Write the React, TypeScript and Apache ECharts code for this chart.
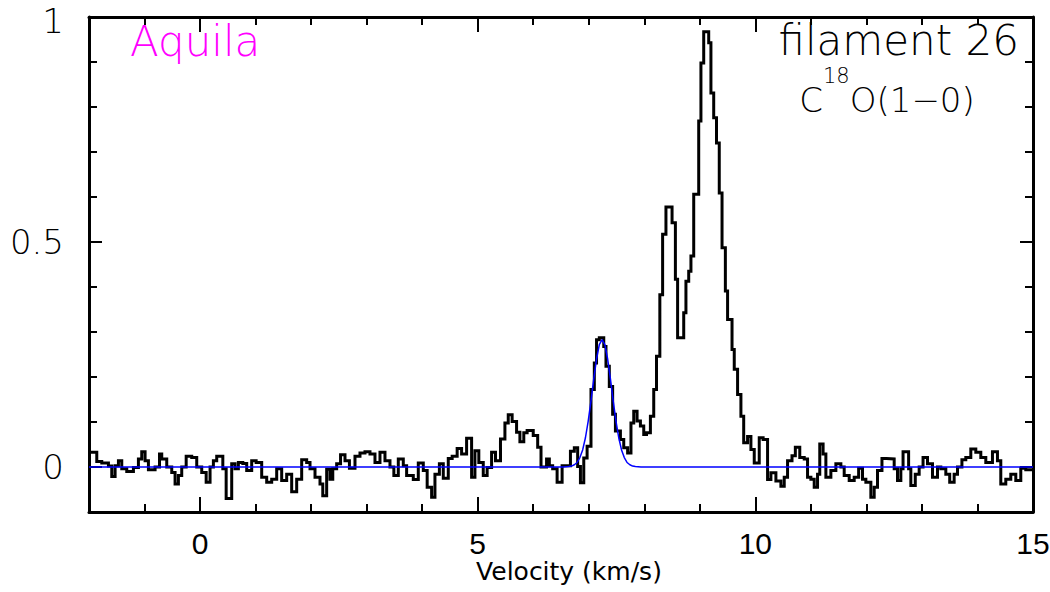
import { useEffect, useRef } from 'react';
import * as echarts from 'echarts';

// Spectrum: each run starts at runStart (km/s) and holds runLevel (K) until the next run
const runStart = [
  -1.97, -1.86, -1.77, -1.65, -1.59, -1.53, -1.47, -1.41, -1.32, -1.20,
  -1.11, -1.05, -0.99, -0.93, -0.81, -0.73, -0.69, -0.60, -0.51, -0.45,
  -0.39, -0.33, -0.25, -0.15, -0.06, 0.03, 0.11, 0.18, 0.24, 0.30,
  0.41, 0.47, 0.57, 0.63, 0.69, 0.77, 0.84, 0.93, 1.01, 1.11,
  1.20, 1.29, 1.38, 1.47, 1.56, 1.65, 1.74, 1.83, 1.92, 1.98,
  2.07, 2.16, 2.21, 2.28, 2.34, 2.39, 2.46, 2.53, 2.61, 2.69,
  2.79, 2.88, 2.97, 3.06, 3.15, 3.24, 3.33, 3.42, 3.49, 3.57,
  3.66, 3.72, 3.84, 3.93, 4.02, 4.09, 4.17, 4.23, 4.31, 4.38,
  4.47, 4.54, 4.63, 4.71, 4.80, 4.89, 4.95, 5.02, 5.10, 5.17,
  5.25, 5.32, 5.41, 5.49, 5.55, 5.62, 5.70, 5.76, 5.83, 5.89,
  6.00, 6.08, 6.14, 6.24, 6.29, 6.35, 6.43, 6.52, 6.67, 6.74,
  6.80, 6.85, 6.91, 6.97, 7.04, 7.10, 7.14, 7.19, 7.27, 7.31,
  7.37, 7.43, 7.48, 7.57, 7.63, 7.70, 7.76, 7.81, 7.87, 7.93,
  7.99, 8.04, 8.11, 8.17, 8.22, 8.28, 8.33, 8.39, 8.50, 8.56,
  8.60, 8.71, 8.75, 8.80, 8.84, 8.89, 8.98, 9.02, 9.07, 9.16,
  9.20, 9.25, 9.30, 9.35, 9.40, 9.46, 9.50, 9.58, 9.62, 9.68,
  9.74, 9.79, 9.86, 9.92, 9.98, 10.07, 10.14, 10.22, 10.28, 10.37,
  10.46, 10.52, 10.58, 10.66, 10.72, 10.80, 10.88, 10.94, 11.00, 11.06,
  11.12, 11.16, 11.22, 11.27, 11.36, 11.45, 11.54, 11.60, 11.69, 11.78,
  11.86, 11.93, 11.99, 12.08, 12.14, 12.20, 12.28, 12.36, 12.50, 12.56,
  12.62, 12.66, 12.76, 12.80, 12.88, 12.95, 13.02, 13.10, 13.19, 13.28,
  13.34, 13.43, 13.50, 13.58, 13.64, 13.72, 13.79, 13.88, 13.97, 14.06,
  14.15, 14.27, 14.36, 14.42, 14.51, 14.60, 14.69, 14.78, 14.87,
];
const runLevel = [
  0.033, 0.012, 0.009, 0.002, -0.021, 0.003, 0.014, -0.004, -0.010, -0.001,
  0.018, 0.034, 0.014, -0.006, 0.000, 0.029, 0.018, 0.000, -0.012, -0.038,
  -0.019, 0.000, 0.024, 0.021, 0.000, -0.012, -0.034, 0.000, 0.014, 0.024,
  -0.004, -0.070, 0.007, -0.004, 0.010, 0.008, -0.008, 0.014, 0.010, -0.023,
  -0.034, -0.027, -0.004, -0.030, -0.016, -0.055, -0.027, 0.016, 0.010, -0.004,
  -0.023, -0.038, -0.064, -0.005, -0.027, -0.004, 0.007, 0.027, 0.014, -0.003,
  0.024, 0.031, 0.034, 0.029, 0.010, 0.033, 0.014, 0.000, -0.019, 0.018,
  0.003, -0.019, -0.028, 0.009, -0.008, -0.045, -0.067, -0.016, 0.007, -0.025,
  0.019, 0.024, 0.041, 0.029, 0.064, -0.023, 0.036, 0.010, -0.019, -0.001,
  0.033, 0.014, 0.062, 0.098, 0.116, 0.101, 0.077, 0.056, 0.076, 0.081,
  0.070, 0.044, 0.000, 0.018, 0.003, -0.004, -0.034, 0.003, 0.035, 0.043,
  0.001, -0.035, 0.020, 0.046, 0.172, 0.231, 0.283, 0.287, 0.268, 0.224,
  0.179, 0.117, 0.080, 0.061, 0.043, 0.031, 0.098, 0.124, 0.102, 0.091,
  0.072, 0.076, 0.113, 0.172, 0.246, 0.383, 0.517, 0.578, 0.543, 0.417,
  0.287, 0.343, 0.413, 0.435, 0.469, 0.606, 0.769, 0.898, 0.967, 0.943,
  0.831, 0.776, 0.720, 0.609, 0.487, 0.391, 0.328, 0.261, 0.217, 0.161,
  0.113, 0.054, 0.068, 0.039, 0.009, 0.065, 0.061, -0.028, -0.013, -0.031,
  -0.043, -0.023, 0.014, 0.025, 0.044, 0.021, 0.018, -0.023, -0.027, -0.045,
  -0.016, 0.051, 0.029, -0.023, -0.008, 0.007, 0.000, -0.019, -0.030, -0.023,
  -0.003, -0.027, -0.034, -0.067, -0.045, -0.008, 0.019, 0.018, -0.004, -0.030,
  -0.004, 0.034, -0.004, -0.041, -0.016, 0.000, 0.021, 0.007, -0.023, 0.000,
  -0.004, -0.016, -0.034, -0.016, 0.000, 0.016, 0.021, 0.040, 0.033, 0.021,
  0.010, 0.034, 0.014, -0.038, -0.027, -0.016, -0.030, -0.003, -0.006,
];
const spectrumEnd = 15;

// Gaussian fit (blue)
const fitVelocity = [
  -2, 6.54, 6.64, 6.69, 6.74, 6.79, 6.84, 6.89, 6.94, 6.99, 7.04, 7.09, 7.14, 7.19,
  7.24, 7.29, 7.34, 7.39, 7.44, 7.49, 7.54, 7.59, 7.64, 7.69, 7.74, 7.79, 7.84, 7.94, 15,
];
const fitIntensity = [
  0, 0, 0.001, 0.002, 0.005, 0.010, 0.021, 0.038, 0.065, 0.102, 0.147, 0.196, 0.240, 0.272,
  0.283, 0.272, 0.240, 0.196, 0.147, 0.102, 0.065, 0.038, 0.021, 0.010, 0.005, 0.002, 0.001, 0, 0,
];

const xMajorLabels = [0, 5, 10, 15];
const yMajorLabels = [0, 0.5, 1];

const THIN_FONT = 'DejaVu Sans';
const tickStyle = { color: '#000', width: 2 };

function makeX(position: 'top' | 'bottom', major: boolean, showLine: boolean) {
  return {
    type: 'value',
    position,
    min: -2,
    max: 15,
    interval: 1,
    axisLine: { show: showLine, onZero: false, lineStyle: { color: '#000', width: 3 } },
    axisTick: major
      ? { show: true, inside: true, length: 15, customValues: xMajorLabels, lineStyle: tickStyle }
      : { show: true, inside: true, length: 8, lineStyle: tickStyle },
    axisLabel:
      position === 'bottom' && !major
        ? {
            show: true,
            customValues: xMajorLabels,
            margin: 16,
            color: '#000',
            fontSize: 30,
            fontFamily: 'Liberation Sans',
            showMinLabel: true,
            showMaxLabel: true,
          }
        : { show: false },
    splitLine: { show: false },
  };
}

function makeY(position: 'left' | 'right', major: boolean, showLine: boolean) {
  return {
    type: 'value',
    position,
    min: -0.1,
    max: 1,
    interval: 0.1,
    axisLine: { show: showLine, onZero: false, lineStyle: { color: '#000', width: 3 } },
    axisTick: major
      ? { show: true, inside: true, length: 13, customValues: yMajorLabels, lineStyle: tickStyle }
      : { show: true, inside: true, length: 8, lineStyle: tickStyle },
    axisLabel:
      position === 'left' && !major
        ? {
            show: true,
            customValues: yMajorLabels,
            formatter: (v: number) => {
              const s = String(Math.round(v * 10) / 10);
              return v >= 1 ? '{edge|' + s + '}' : '{n|' + s + '}';
            },
            margin: 25,
            color: '#000',
            fontSize: 34,
            fontFamily: THIN_FONT,
            fontWeight: 200,
            rich: {
              n: { fontSize: 34, fontFamily: THIN_FONT, fontWeight: 200, color: '#000', lineHeight: 34 },
              edge: {
                fontSize: 34,
                fontFamily: THIN_FONT,
                fontWeight: 200,
                color: '#000',
                lineHeight: 34,
                padding: [8, 0, 0, 0],
              },
            },
          }
        : { show: false },
    splitLine: { show: false },
  };
}

export default function App() {
  const ref = useRef<HTMLDivElement>(null);
  useEffect(() => {
    document.body.style.margin = '0';
    const chart = echarts.init(ref.current!, null, { renderer: 'svg' });
    const spectrum = runStart.map((v, i) => [v, runLevel[i]]);
    spectrum.push([spectrumEnd, runLevel[runLevel.length - 1]]);
    const fit = fitVelocity.map((v, i) => [v, fitIntensity[i]]);
    chart.setOption({
      animation: false,
      backgroundColor: '#fff',
      grid: { left: 89, right: 17, top: 17, bottom: 80, containLabel: false, outerBoundsMode: 'none' },
      xAxis: [
        makeX('bottom', false, true),
        makeX('bottom', true, false),
        makeX('top', false, true),
        makeX('top', true, false),
      ],
      yAxis: [
        makeY('left', false, true),
        makeY('left', true, false),
        makeY('right', false, true),
        makeY('right', true, false),
      ],
      series: [
        {
          type: 'line',
          name: 'C18O(1-0)',
          data: spectrum,
          step: 'end',
          showSymbol: false,
          xAxisIndex: 0,
          yAxisIndex: 0,
          lineStyle: { color: '#000', width: 3, join: 'miter' },
          z: 2,
        },
        {
          type: 'line',
          name: 'Gaussian fit',
          data: fit,
          showSymbol: false,
          xAxisIndex: 0,
          yAxisIndex: 0,
          lineStyle: { color: '#0000ff', width: 1.5 },
          z: 3,
        },
      ],
      graphic: [
        {
          type: 'text',
          x: 130,
          y: 41,
          style: {
            text: 'Aquila',
            fill: '#ff00ff',
            fontSize: 42,
            fontFamily: THIN_FONT,
            fontWeight: 200,
            textAlign: 'left',
            textVerticalAlign: 'middle',
          },
        },
        {
          type: 'text',
          x: 1019,
          y: 40,
          style: {
            text: 'filament 26',
            fill: '#000',
            fontSize: 42,
            fontFamily: THIN_FONT,
            fontWeight: 200,
            textAlign: 'right',
            textVerticalAlign: 'middle',
          },
        },
        {
          type: 'text',
          x: 887,
          y: 65,
          style: {
            text: '{a|C}{b|18}{a|O(1−0)}',
            fill: '#000',
            textAlign: 'center',
            textVerticalAlign: 'top',
            rich: {
              a: {
                fontSize: 34,
                fontFamily: THIN_FONT,
                fontWeight: 200,
                lineHeight: 52,
                verticalAlign: 'bottom',
              },
              b: {
                fontSize: 21,
                fontFamily: THIN_FONT,
                fontWeight: 200,
                lineHeight: 52,
                verticalAlign: 'top',
              },
            },
          },
        },
        {
          type: 'text',
          x: 569,
          y: 571,
          style: {
            text: 'Velocity (km/s)',
            fill: '#000',
            fontSize: 25,
            fontFamily: 'DejaVu Sans',
            textAlign: 'center',
            textVerticalAlign: 'middle',
          },
        },
      ],
    });
    return () => chart.dispose();
  }, []);
  return <div ref={ref} style={{ width: 1050, height: 592 }} />;
}
